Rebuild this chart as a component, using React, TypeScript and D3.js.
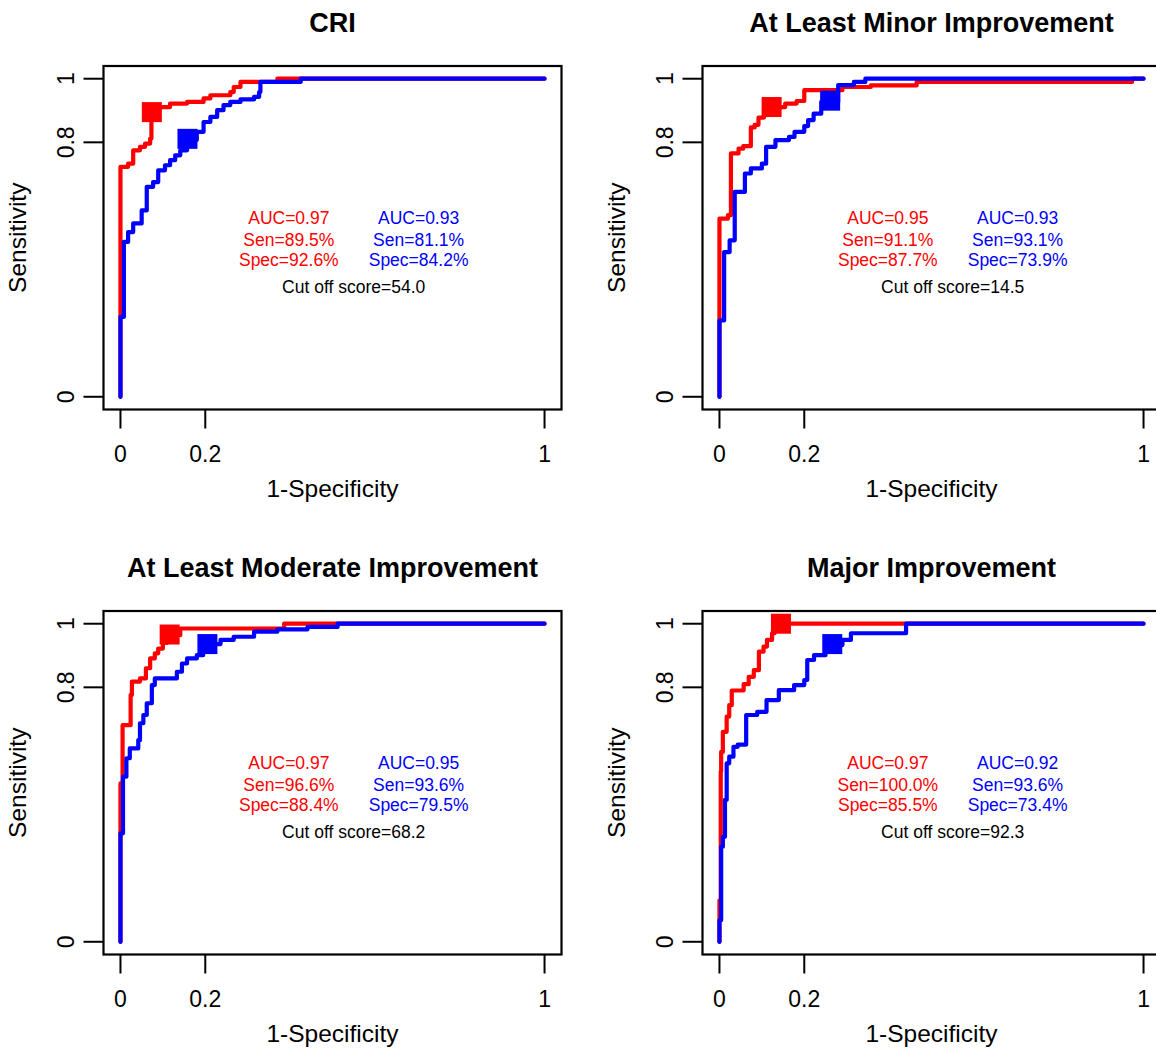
import React from "react";
import * as d3 from "d3";

// panel titles and axis ticks
const titles = ["CRI", "At Least Minor Improvement", "At Least Moderate Improvement", "Major Improvement"];
const xTicks = [0, 0.2, 1];
const yTicks = [0, 0.8, 1];
const xTickLabels = ["0", "0.2", "1"];
const yTickLabels = ["0", "0.8", "1"];

// ROC staircase points [1-specificity, sensitivity] (drawn with curveStepBefore)
const criRed: [number, number][] = [
  [0, 0], [0.018, 0.723], [0.03, 0.733], [0.046, 0.775], [0.058, 0.786], [0.07, 0.796],
  [0.073, 0.812], [0.085, 0.895], [0.117, 0.911], [0.157, 0.922], [0.196, 0.927],
  [0.212, 0.938], [0.259, 0.948], [0.267, 0.958], [0.283, 0.974], [0.37, 0.99], [1, 1],
];
const criBlue: [number, number][] = [
  [0, 0], [0.008, 0.251], [0.018, 0.487], [0.03, 0.518], [0.05, 0.545], [0.062, 0.586],
  [0.077, 0.66], [0.089, 0.675], [0.105, 0.712], [0.117, 0.728], [0.129, 0.744],
  [0.141, 0.759], [0.157, 0.775], [0.18, 0.807], [0.196, 0.833], [0.212, 0.864],
  [0.228, 0.88], [0.243, 0.901], [0.259, 0.917], [0.283, 0.927], [0.315, 0.935],
  [0.327, 0.943], [0.33, 0.958], [0.425, 0.99], [1, 1],
];
const minorRed: [number, number][] = [
  [0, 0], [0.02, 0.56], [0.027, 0.571], [0.045, 0.765], [0.056, 0.78], [0.074, 0.788],
  [0.083, 0.847], [0.092, 0.855], [0.105, 0.878], [0.155, 0.911], [0.182, 0.922],
  [0.2, 0.93], [0.29, 0.964], [0.357, 0.974], [0.465, 0.979], [0.973, 0.99], [1, 1],
];
const minorBlue: [number, number][] = [
  [0, 0], [0.011, 0.24], [0.024, 0.455], [0.036, 0.492], [0.06, 0.644], [0.074, 0.702],
  [0.1, 0.718], [0.11, 0.733], [0.132, 0.786], [0.164, 0.807], [0.177, 0.817],
  [0.2, 0.833], [0.209, 0.851], [0.222, 0.87], [0.24, 0.89], [0.28, 0.927],
  [0.317, 0.98], [0.344, 0.99], [1, 1],
];
const moderateRed: [number, number][] = [
  [0, 0], [0.005, 0.498], [0.024, 0.681], [0.027, 0.776], [0.046, 0.818], [0.06, 0.828],
  [0.07, 0.86], [0.081, 0.891], [0.089, 0.907], [0.1, 0.922], [0.11, 0.94],
  [0.141, 0.964], [0.386, 0.985], [1, 1],
];
const moderateBlue: [number, number][] = [
  [0, 0], [0.006, 0.341], [0.014, 0.519], [0.022, 0.577], [0.042, 0.608], [0.046, 0.634],
  [0.054, 0.687], [0.062, 0.713], [0.074, 0.75], [0.081, 0.807], [0.133, 0.828],
  [0.145, 0.849], [0.157, 0.875], [0.18, 0.891], [0.195, 0.901], [0.236, 0.936],
  [0.267, 0.949], [0.315, 0.959], [0.37, 0.975], [0.441, 0.982], [0.512, 0.99], [1, 1],
];
const majorRed: [number, number][] = [
  [0, 0], [0.003, 0.13], [0.004, 0.535], [0.008, 0.597], [0.017, 0.66], [0.023, 0.708],
  [0.029, 0.744], [0.057, 0.79], [0.069, 0.81], [0.081, 0.833], [0.093, 0.854],
  [0.104, 0.912], [0.112, 0.928], [0.124, 0.949], [0.13, 0.97], [0.14, 0.985], [1, 1],
];
const majorBlue: [number, number][] = [
  [0, 0], [0.004, 0.068], [0.008, 0.299], [0.013, 0.33], [0.017, 0.446], [0.023, 0.561],
  [0.033, 0.582], [0.043, 0.613], [0.063, 0.62], [0.089, 0.713], [0.111, 0.723],
  [0.14, 0.76], [0.176, 0.791], [0.2, 0.807], [0.207, 0.823], [0.223, 0.886],
  [0.25, 0.901], [0.29, 0.933], [0.31, 0.949], [0.44, 0.97], [1, 1],
];

const redCurves = [criRed, minorRed, moderateRed, majorRed];
const blueCurves = [criBlue, minorBlue, moderateBlue, majorBlue];

// statistics printed in each panel
const redAuc = [0.97, 0.95, 0.97, 0.97];
const redSen = [89.5, 91.1, 96.6, 100.0];
const redSpec = [92.6, 87.7, 88.4, 85.5];
const blueAuc = [0.93, 0.93, 0.95, 0.92];
const blueSen = [81.1, 93.1, 93.6, 93.6];
const blueSpec = [84.2, 73.9, 79.5, 73.4];
const cutOffScores = [54.0, 14.5, 68.2, 92.3];

const RED = "#ff0000";
const BLUE = "#0000ff";
const FONT = "'Liberation Sans', Arial, Helvetica, sans-serif";

const x = d3.scaleLinear().domain([-0.04, 1.04]).range([103.5, 561.5]);
const y = d3.scaleLinear().domain([-0.04, 1.04]).range([409.5, 66]);
const line = d3
  .line<[number, number]>()
  .x((d) => x(d[0]))
  .y((d) => y(d[1]))
  .curve(d3.curveStepBefore);

const SQ = 20;

const Panel = ({ i, dx, dy }: { i: number; dx: number; dy: number }) => {
  const redPt = [1 - redSpec[i] / 100, redSen[i] / 100];
  const bluePt = [1 - blueSpec[i] / 100, blueSen[i] / 100];
  const rows = [0.543, 0.474, 0.411];
  const redTxt = [`AUC=${redAuc[i].toFixed(2)}`, `Sen=${redSen[i].toFixed(1)}%`, `Spec=${redSpec[i].toFixed(1)}%`];
  const blueTxt = [`AUC=${blueAuc[i].toFixed(2)}`, `Sen=${blueSen[i].toFixed(1)}%`, `Spec=${blueSpec[i].toFixed(1)}%`];
  const [x0, x1] = x.range();
  const [y0, y1] = y.range();
  return (
    <g transform={`translate(${dx},${dy})`} fontFamily={FONT}>
      <text x={(x0 + x1) / 2} y={32} textAnchor="middle" fontWeight="bold" fontSize={27} fill="#000">
        {titles[i]}
      </text>
      {/* curves */}
      <path d={line(redCurves[i]) || ""} fill="none" stroke={RED} strokeWidth={4.2} strokeLinejoin="round" strokeLinecap="round" />
      <rect x={x(redPt[0]) - SQ / 2} y={y(redPt[1]) - SQ / 2} width={SQ} height={SQ} fill={RED} />
      <path d={line(blueCurves[i]) || ""} fill="none" stroke={BLUE} strokeWidth={4.2} strokeLinejoin="round" strokeLinecap="round" />
      <rect x={x(bluePt[0]) - SQ / 2} y={y(bluePt[1]) - SQ / 2} width={SQ} height={SQ} fill={BLUE} />
      {/* box */}
      <rect x={x0} y={y1} width={x1 - x0} height={y0 - y1} fill="none" stroke="#000" strokeWidth={2.2} />
      {/* x axis */}
      {xTicks.map((t, k) => (
        <g key={"x" + k}>
          <line x1={x(t)} x2={x(t)} y1={y0} y2={y0 + 19} stroke="#000" strokeWidth={2} />
          <text x={x(t)} y={461.5} textAnchor="middle" fontSize={23} fill="#000">
            {xTickLabels[k]}
          </text>
        </g>
      ))}
      {/* y axis */}
      {yTicks.map((t, k) => (
        <g key={"y" + k}>
          <line x1={x0 - 20} x2={x0} y1={y(t)} y2={y(t)} stroke="#000" strokeWidth={2} />
          <text transform={`translate(74,${y(t)}) rotate(-90)`} textAnchor="middle" fontSize={23} fill="#000">
            {yTickLabels[k]}
          </text>
        </g>
      ))}
      <text x={(x0 + x1) / 2} y={497} textAnchor="middle" fontSize={24.5} fill="#000">
        1-Specificity
      </text>
      <text transform={`translate(26,${(y0 + y1) / 2}) rotate(-90)`} textAnchor="middle" fontSize={24.5} fill="#000">
        Sensitivity
      </text>
      {/* statistics */}
      {rows.map((r, k) => (
        <g key={"s" + k} fontSize={17.5}>
          <text x={x(0.397)} y={y(r)} textAnchor="middle" fill={RED}>
            {redTxt[k]}
          </text>
          <text x={x(0.703)} y={y(r)} textAnchor="middle" fill={BLUE}>
            {blueTxt[k]}
          </text>
        </g>
      ))}
      <text x={x(0.55)} y={y(0.326)} textAnchor="middle" fontSize={17.5} fill="#000">
        {`Cut off score=${cutOffScores[i].toFixed(1)}`}
      </text>
    </g>
  );
};

const App = () => {
  const offsets = [
    [0, 0],
    [599, 0],
    [0, 545],
    [599, 545],
  ];
  return (
    <svg
      width={1156}
      height={1051}
      style={{ position: "absolute", left: 0, top: 0, background: "#fff" }}
    >
      <rect width={1156} height={1051} fill="#fff" />
      {offsets.map((o, i) => (
        <Panel key={i} i={i} dx={o[0]} dy={o[1]} />
      ))}
    </svg>
  );
};

export default App;
